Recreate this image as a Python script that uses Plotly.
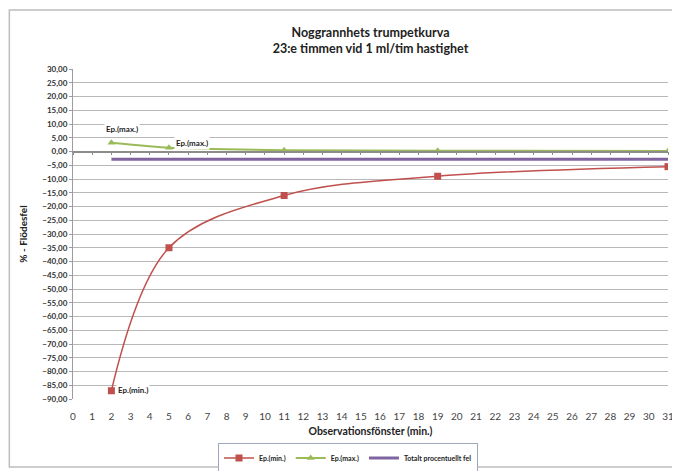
import plotly.graph_objects as go

# ---- data ----
x_min = [2, 5, 11, 19, 31]
ep_min = [-87.0, -35.0, -16.0, -9.0, -5.5]
x_max = [2, 5, 11, 19, 31]
ep_max = [3.2, 1.4, 0.5, 0.3, 0.2]
x_tot = [2, 31]
tot_fel = [-2.8, -2.8]
x_ticks = list(range(0, 32))
y_ticks = list(range(-90, 35, 5))

title_lines = ["Noggrannhets trumpetkurva", "23:e timmen vid 1 ml/tim hastighet"]
x_title = "Observationsfönster (min.)"
y_title = "% - Flödesfel"
names = ["Ep.(min.)", "Ep.(max.)", "Totalt procentuellt fel"]

RED = "#C0504D"
GREEN = "#9BBB59"
PURPLE = "#8064A2"
FONT = "Lato, sans-serif"

# page body has an 8px margin -> figure is 8px smaller and offset
W, H = 672, 463

fig = go.Figure()
fig.add_trace(go.Scatter(x=x_min, y=ep_min, name=names[0], mode="lines+markers",
                         line=dict(color=RED, width=1.5, shape="spline", smoothing=1.0),
                         marker=dict(symbol="square", size=7, color=RED)))
fig.add_trace(go.Scatter(x=x_max, y=ep_max, name=names[1], mode="lines+markers",
                         line=dict(color=GREEN, width=2, shape="spline", smoothing=0.5),
                         marker=dict(symbol="triangle-up", size=7, color=GREEN)))
fig.add_trace(go.Scatter(x=x_tot, y=tot_fel, name=names[2], mode="lines",
                         xaxis="x2",
                         line=dict(color=PURPLE, width=3)))

# data labels
lab_font = dict(size=8, family=FONT, color="#222", weight="bold")
fig.add_annotation(x=x_max[0], y=ep_max[0], text=names[1], showarrow=False,
                   xanchor="left", yanchor="middle", xshift=-7, yshift=14,
                   bgcolor="white", font=lab_font)
fig.add_annotation(x=x_max[1], y=ep_max[1], text=names[1], showarrow=False,
                   xanchor="left", yanchor="middle", xshift=5, yshift=5,
                   bgcolor="white", font=lab_font)
fig.add_annotation(x=x_min[0], y=ep_min[0], text=names[0], showarrow=False,
                   xanchor="left", yanchor="middle", xshift=5, yshift=1,
                   bgcolor="white", font=lab_font)

# outer chart border
fig.add_shape(type="rect", xref="paper", yref="paper",
              x0=-0.107, x1=1.0134, y0=-0.206, y1=1.1788,
              line=dict(color="#BDBDBD", width=1.5), fillcolor="rgba(0,0,0,0)", layer="below")

fig.update_layout(
    width=W, height=H,
    margin=dict(l=65, r=12, t=61, b=72, autoexpand=False),
    paper_bgcolor="white", plot_bgcolor="white",
    separators=",.",
    font=dict(family=FONT, color="#222"),
    title=dict(text=title_lines[0] + "<br>" + title_lines[1],
               x=0.5, xref="paper", xanchor="center", yref="container",
               y=(H - 28.5) / H, yanchor="middle",
               font=dict(size=12.5, family=FONT, color="#222", weight="bold")),
    xaxis=dict(range=[0, 31], tickmode="array", tickvals=x_ticks, automargin=False,
               showgrid=False, zeroline=False, showline=False, ticks="",
               ticklabelstandoff=10, tickfont=dict(size=10, color="#444", family=FONT),
               title=dict(text=x_title, font=dict(size=10.5, family=FONT, color="#222", weight="bold"),
                          standoff=6)),
    xaxis2=dict(range=[0, 31], overlaying="x", anchor="free", position=0.75, side="bottom",
                automargin=False,
                tickmode="array", tickvals=x_ticks, showticklabels=False,
                ticks="outside", ticklen=3, tickcolor="#8C8C8C", tickwidth=1,
                showline=True, linecolor="#8C8C8C", linewidth=1.5,
                showgrid=False, zeroline=False),
    yaxis=dict(range=[-90, 30], tickmode="array", tickvals=y_ticks, tickformat=".2f",
               automargin=False,
               showgrid=True, gridcolor="#B8B8B8", gridwidth=1, zeroline=False,
               showline=True, linecolor="#9C9C9C", linewidth=1,
               ticks="outside", ticklen=3, tickcolor="#9C9C9C",
               tickfont=dict(size=8, family=FONT, color="#333", weight="bold"),
               title=dict(text=y_title, font=dict(size=10, family=FONT, color="#222", weight="bold"),
                          standoff=12)),
    legend=dict(orientation="h", xref="container", x=340 / W, xanchor="center",
                yref="container", y=13 / H, yanchor="middle",
                bordercolor="#A0A8C0", borderwidth=1, bgcolor="white",
                font=dict(size=7, family=FONT, color="#222", weight="bold"),
                itemwidth=30),
    showlegend=True,
)

fig.write_html("out.html")
